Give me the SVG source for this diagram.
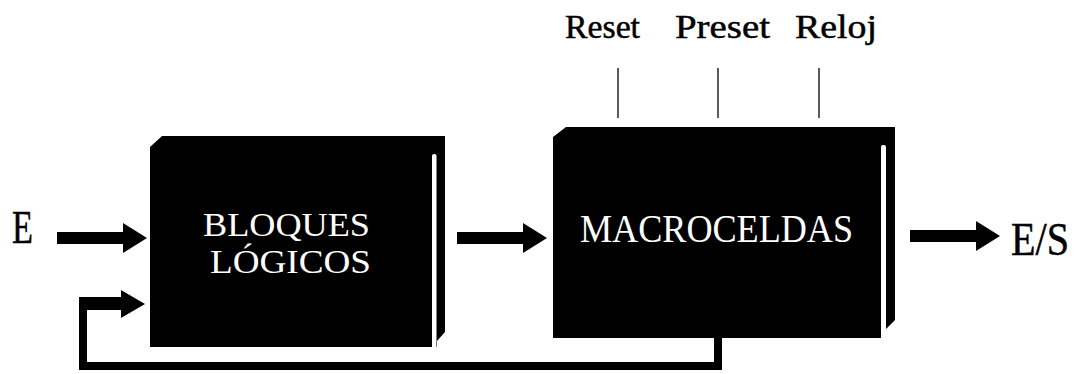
<svg xmlns="http://www.w3.org/2000/svg" width="1077" height="374" viewBox="0 0 1077 374">
  <style>
    .block { fill: #000; }
    .gap { fill: #fff; }
    .inner { fill: #fff; font-family: "Liberation Serif", "Times New Roman", serif; }
    .label { fill: #000; font-family: "Liberation Serif", "Times New Roman", serif; stroke: #000; stroke-width: 0.5; }
    .wire { stroke: #000; fill: none; }
    .bus { fill: #000; }
  </style>
  <defs>
    <!-- thick block arrow pointing right, tip at origin -->
    <path id="arrow" d="M-90,-6 L-24,-6 L-24,-15 L0,0 L-24,15 L-24,6 L-90,6 Z"/>
  </defs>

  <rect width="1077" height="374" fill="#fff"/>

  <!-- input / output labels -->
  <g id="input-label">
    <text class="label" x="12" y="243" font-size="46" textLength="21" lengthAdjust="spacingAndGlyphs">E</text>
  </g>
  <g id="output-label">
    <text class="label" x="1011" y="255" font-size="46" textLength="58" lengthAdjust="spacingAndGlyphs">E/S</text>
  </g>

  <!-- control signals -->
  <g id="control-labels">
    <text class="label" x="565" y="38" font-size="34" textLength="75" lengthAdjust="spacingAndGlyphs">Reset</text>
    <text class="label" x="675" y="38" font-size="34" textLength="95" lengthAdjust="spacingAndGlyphs">Preset</text>
    <text class="label" x="795" y="38" font-size="34" textLength="82" lengthAdjust="spacingAndGlyphs">Reloj</text>
  </g>

  <!-- logic blocks -->
  <g id="bloques-logicos">
    <path class="block" d="M150,147 L162,136 L445,136 L445,332 L437,341 L437,347 L150,347 Z"/>
    <rect class="gap" x="432" y="154" width="4.5" height="196" rx="2"/>
    <text class="inner" x="203" y="236" font-size="33" textLength="167" lengthAdjust="spacingAndGlyphs">BLOQUES</text>
    <text class="inner" x="210" y="273" font-size="33" textLength="161" lengthAdjust="spacingAndGlyphs">LÓGICOS</text>
  </g>

  <!-- macrocells -->
  <g id="macroceldas">
    <path class="block" d="M553,137 L566,127 L895,127 L895,320 L886,329 L886,338 L553,338 Z"/>
    <rect class="gap" x="881" y="145" width="5" height="196" rx="2"/>
    <text class="inner" x="580" y="242" font-size="40" textLength="273" lengthAdjust="spacingAndGlyphs">MACROCELDAS</text>
  </g>

  <!-- connectors -->
  <g id="connectors">
    <line class="wire" x1="618" y1="68" x2="618" y2="118" stroke-width="1.3"/>
    <line class="wire" x1="718" y1="68" x2="718" y2="118" stroke-width="1.3"/>
    <line class="wire" x1="819" y1="68" x2="819" y2="118" stroke-width="1.3"/>

    <use href="#arrow" transform="translate(147,238)"/>
    <use href="#arrow" transform="translate(547,238)"/>
    <use href="#arrow" transform="translate(1000,236)"/>

    <!-- feedback path from macrocells back to logic blocks -->
    <rect class="bus" x="714" y="338" width="8" height="32"/>
    <rect class="bus" x="79" y="362" width="643" height="8"/>
    <rect class="bus" x="79" y="297" width="8" height="73"/>
    <path class="bus" d="M79,297 L121,297 L121,290 L145,304 L121,318 L121,310 L79,310 Z"/>
  </g>
</svg>
